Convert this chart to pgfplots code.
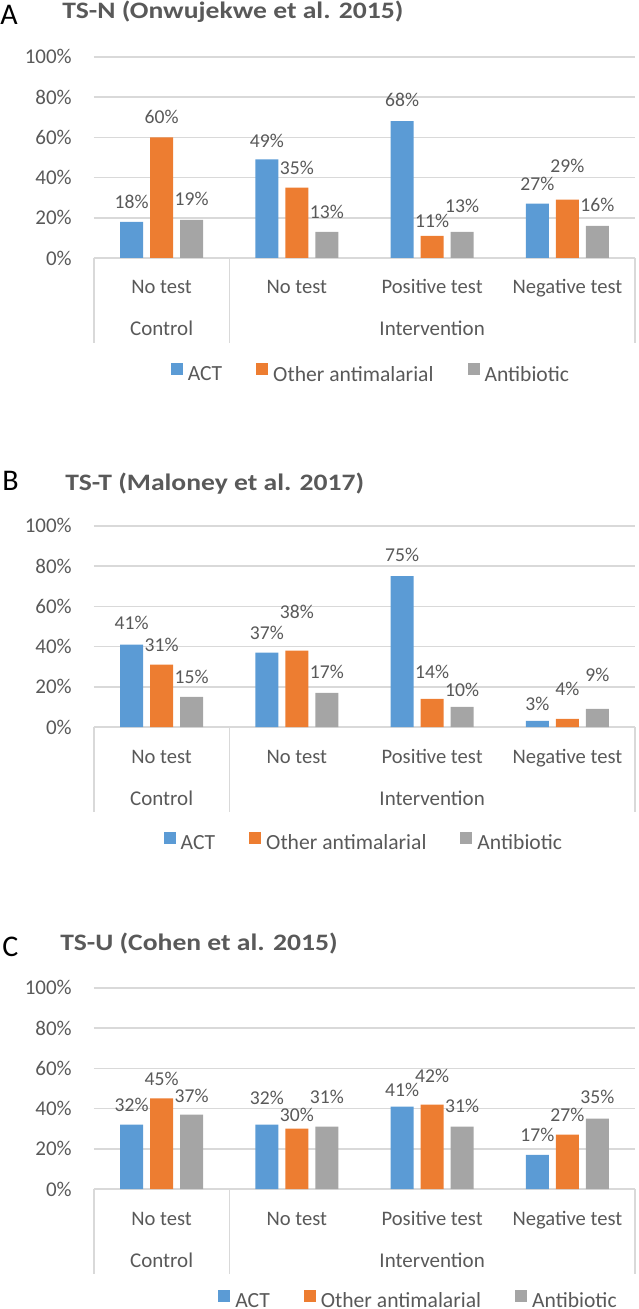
\documentclass[border=0pt]{standalone}
\usepackage{fontspec}
\setmainfont{Carlito}
\usepackage{graphicx}
\usepackage{pgfplots}
\pgfplotsset{compat=1.18}
\definecolor{txt}{HTML}{595959}
\definecolor{gridc}{HTML}{D9D9D9}
\definecolor{cACT}{HTML}{5B9BD5}
\definecolor{cOTH}{HTML}{ED7D31}
\definecolor{cABX}{HTML}{A5A5A5}
\pgfplotsset{
  panel/.style={
    scale only axis, width=270.5pt, height=100.6pt,
    anchor=south west,
    xmin=-0.5, xmax=3.5, ymin=0, ymax=100,
    xtick={0,1,2,3},
    xticklabels={No test,No test,Positive test,Negative test},
    ytick={0,20,40,60,80,100},
    yticklabels={0\%,20\%,40\%,60\%,80\%,100\%},
    major tick length=0pt,
    axis line style={draw=none},
    ymajorgrids, grid style={gridc, line width=0.75pt},
    xticklabel style={font=\fontsize{10.3}{12}\selectfont, text=txt, anchor=base, yshift=-18pt},
    yticklabel style={font=\fontsize{10.5}{12}\selectfont, text=txt, xshift=-7.6pt},
    clip=false,
    visualization depends on={\thisrow{dy}\as\dy},
    nodes near coords={\pgfmathprintnumber[fixed,precision=0,assume math mode=true]{\pgfplotspointmeta}\%},
    every node near coord/.append style={font=\fontsize{9.8}{11}\selectfont, text=txt, anchor=center, yshift=\dy pt},
    legend columns=3,
    legend cell align=left,
    legend image code/.code={\fill[##1] (0pt,0pt) rectangle (6pt,6pt);},
    legend style={draw=none, fill=none, anchor=center, inner sep=0pt,
      font=\fontsize{10.8}{13}\selectfont, text=txt,
      nodes={inner sep=0pt},
      /tikz/every odd column/.append style={column sep=2.5pt},
      /tikz/every even column/.append style={column sep=17pt}},
  },
  sA/.style={ybar, bar width=11.5pt, bar shift=-15pt, fill=cACT, draw=none,
    every node near coord/.append style={xshift=-15pt}},
  sO/.style={ybar, bar width=11.5pt, bar shift=0pt, fill=cOTH, draw=none},
  sB/.style={ybar, bar width=11.5pt, bar shift=15pt, fill=cABX, draw=none,
    every node near coord/.append style={xshift=15pt}},
}
\newcommand{\boxlines}{%
  \draw[gridc, line width=0.75pt] (axis cs:-0.5,0) -- ++(0pt,-42.5pt);
  \draw[gridc, line width=0.75pt] (axis cs:0.5,0) -- ++(0pt,-42.5pt);
  \draw[gridc, line width=0.75pt] (axis cs:3.5,0) -- ++(0pt,-42.5pt);
  \node[anchor=base, font=\fontsize{10.5}{12}\selectfont, text=txt, inner sep=0pt] at ([yshift=-39pt]axis cs:0,0) {Control};
  \node[anchor=base, font=\fontsize{10.5}{12}\selectfont, text=txt, inner sep=0pt] at ([yshift=-39pt]axis cs:2,0) {Intervention};
}
\newcommand{\ttl}[1]{\scalebox{1.17}[1]{\bfseries\fontsize{11.8}{14}\selectfont #1}}
\begin{document}
\begin{tikzpicture}
\useasboundingbox (0,0) rectangle (319pt,-654.5pt);
% Panel A
\node[anchor=base west, inner sep=0pt, font=\fontsize{15}{18}\selectfont] at (0pt,-12.5pt) {A};
\node[anchor=base west, inner sep=0pt, text=txt] at (31pt,-9.3pt) {\ttl{TS-N (Onwujekwe et al. 2015)}};
\begin{axis}[panel, at={(47pt,-129pt)}, legend style={at={(0.51,-0.576)}}]
\addplot[sA] table {
x y dy
0 18 10
1 49 9.5
2 68 10.5
3 27 10
};
\addplot[sO] table {
x y dy
0 60 10
1 35 10
2 11 7.5
3 29 17
};
\addplot[sB] table {
x y dy
0 19 10.5
1 13 10
2 13 13
3 16 10.5
};
\legend{ACT,Other antimalarial,Antibiotic}
\boxlines
\end{axis}
% Panel B
\node[anchor=base west, inner sep=0pt, font=\fontsize{15}{18}\selectfont] at (1pt,-245.3pt) {B};
\node[anchor=base west, inner sep=0pt, text=txt] at (32.5pt,-245pt) {\ttl{TS-T (Maloney et al. 2017)}};
\begin{axis}[panel, at={(47pt,-363.5pt)}, legend style={at={(0.497,-0.572)}}]
\addplot[sA] table {
x y dy
0 41 10.8
1 37 10
2 75 10.5
3 3 8.5
};
\addplot[sO] table {
x y dy
0 31 10
1 38 19.3
2 14 13.5
3 4 15
};
\addplot[sB] table {
x y dy
0 15 10
1 17 10.5
2 10 8.5
3 9 17
};
\legend{ACT,Other antimalarial,Antibiotic}
\boxlines
\end{axis}
% Panel C
\node[anchor=base west, inner sep=0pt, font=\fontsize{15}{18}\selectfont] at (1pt,-478.3pt) {C};
\node[anchor=base west, inner sep=0pt, text=txt] at (30pt,-475.3pt) {\ttl{TS-U (Cohen et al. 2015)}};
\begin{axis}[panel, at={(47pt,-594.5pt)}, legend style={at={(0.598,-0.552)}}]
\addplot[sA] table {
x y dy
0 32 10
1 32 13.5
2 41 8.3
3 17 10
};
\addplot[sO] table {
x y dy
0 45 10
1 30 6.9
2 42 14.3
3 27 10
};
\addplot[sB] table {
x y dy
0 37 9.3
1 31 15
2 31 10.3
3 35 10.8
};
\legend{ACT,Other antimalarial,Antibiotic}
\boxlines
\end{axis}
\end{tikzpicture}
\end{document}
